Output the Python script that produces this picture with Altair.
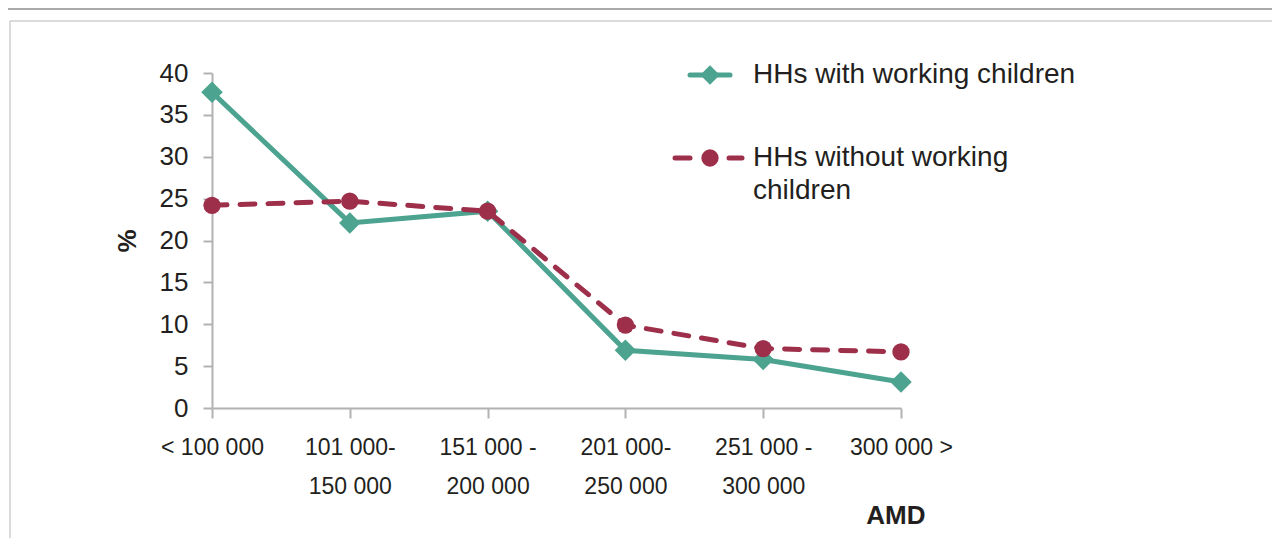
import altair as alt
import pandas as pd

# ---- data ----
categories = [
    "< 100 000",
    "101 000-\n150 000",
    "151 000 -\n200 000",
    "201 000-\n250 000",
    "251 000 -\n300 000",
    "300 000  >",
]
series_names = ["HHs with working children", "HHs without working\nchildren"]
with_working = [37.7, 22.1, 23.5, 6.9, 5.8, 3.1]
without_working = [24.2, 24.7, 23.5, 9.9, 7.1, 6.7]
y_ticks = [0, 5, 10, 15, 20, 25, 30, 35, 40]

GREEN = "#4ca38f"
RED = "#9d2f4a"
AXIS_GREY = "#b2b2b4"
TEXT = "#231f20"
FONT = "Liberation Sans"

PLOT_W = 689
PLOT_H = 335

df_with = pd.DataFrame({"category": categories, "value": with_working})
df_without = pd.DataFrame({"category": categories, "value": without_working})

x_enc = alt.X(
    "category:N",
    sort=categories,
    scale=alt.Scale(type="point", padding=0),
    axis=alt.Axis(
        title="AMD",
        titleFontWeight="bold",
        titleFontSize=26,
        titleColor=TEXT,
        titleFont=FONT,
        titleAlign="right",
        titleBaseline="middle",
        titleX=713,
        titleY=107,
        labelExpr="split(datum.label, '\\n')",
        labelAngle=0,
        labelFontSize=23,
        labelLineHeight=39,
        labelPadding=18,
        labelColor=TEXT,
        labelFont=FONT,
        labelBaseline="top",
        domainColor=AXIS_GREY,
        domainWidth=2,
        tickColor=AXIS_GREY,
        tickWidth=2,
        tickSize=10,
        grid=False,
    ),
)
y_enc = alt.Y(
    "value:Q",
    scale=alt.Scale(domain=[0, 40], nice=False, zero=True),
    axis=alt.Axis(
        title="%",
        titleFontWeight="bold",
        titleFontSize=26,
        titleColor=TEXT,
        titleFont=FONT,
        titlePadding=19,
        values=y_ticks,
        labelFontSize=26,
        labelColor=TEXT,
        labelFont=FONT,
        labelPadding=15,
        domainColor=AXIS_GREY,
        domainWidth=2,
        tickColor=AXIS_GREY,
        tickWidth=2,
        tickSize=9,
        grid=False,
    ),
)

line_with = alt.Chart(df_with).mark_line(
    color=GREEN, strokeWidth=5, strokeJoin="miter"
).encode(x=x_enc, y=y_enc)
pts_with = alt.Chart(df_with).mark_point(
    shape="diamond", filled=True, color=GREEN, size=460, opacity=1
).encode(x=x_enc, y=y_enc)

line_without = alt.Chart(df_without).mark_line(
    color=RED, strokeWidth=5, strokeDash=[15, 13], strokeCap="round"
).encode(x=x_enc, y=y_enc)
pts_without = alt.Chart(df_without).mark_point(
    shape="circle", filled=True, color=RED, size=300, opacity=1
).encode(x=x_enc, y=y_enc)

# ---- custom legend (layout only) ----
leg1_line = alt.Chart().mark_rule(color=GREEN, strokeWidth=5, strokeCap="round").encode(
    x=alt.value(478), x2=alt.value(518), y=alt.value(2)
)
leg1_pt = alt.Chart().mark_point(shape="diamond", filled=True, color=GREEN, size=380, opacity=1).encode(
    x=alt.value(498), y=alt.value(2)
)
leg1_txt = alt.Chart().mark_text(
    text=series_names[0], align="left", baseline="middle", fontSize=28, font=FONT, color=TEXT
).encode(x=alt.value(541), y=alt.value(2))

leg2_a = alt.Chart().mark_rule(color=RED, strokeWidth=5, strokeCap="round").encode(
    x=alt.value(463), x2=alt.value(478), y=alt.value(85)
)
leg2_b = alt.Chart().mark_rule(color=RED, strokeWidth=5, strokeCap="round").encode(
    x=alt.value(517), x2=alt.value(530), y=alt.value(85)
)
leg2_pt = alt.Chart().mark_point(shape="circle", filled=True, color=RED, size=300, opacity=1).encode(
    x=alt.value(498), y=alt.value(85)
)
leg2_txt = alt.Chart().mark_text(
    text=series_names[1], lineBreak="\n", lineHeight=33, align="left", baseline="middle",
    fontSize=28, font=FONT, color=TEXT
).encode(x=alt.value(541), y=alt.value(85))

# ---- page frame decoration ----
frame_top_dark = alt.Chart().mark_rule(color="#a9a9ab", strokeWidth=2).encode(
    x=alt.value(-204), x2=alt.value(1068), y=alt.value(-64)
)
frame_top = alt.Chart().mark_rule(color="#cfcfd1", strokeWidth=1.5).encode(
    x=alt.value(-202), x2=alt.value(1068), y=alt.value(-52)
)
frame_left = alt.Chart().mark_rule(color="#cfcfd1", strokeWidth=1.5).encode(
    x=alt.value(-202), y=alt.value(-52), y2=alt.value(480)
)

chart = alt.layer(
    frame_top_dark, frame_top, frame_left,
    line_with, pts_with, line_without, pts_without,
    leg1_line, leg1_pt, leg1_txt, leg2_a, leg2_b, leg2_pt, leg2_txt,
).properties(
    width=PLOT_W,
    height=PLOT_H,
    autosize=alt.AutoSizeParams(type="none"),
    padding={"left": 204, "top": 65, "right": 371, "bottom": 130},
    background="white",
).configure_view(stroke=None)

chart.save("out.html", embed_options={"renderer": "svg", "actions": False})
